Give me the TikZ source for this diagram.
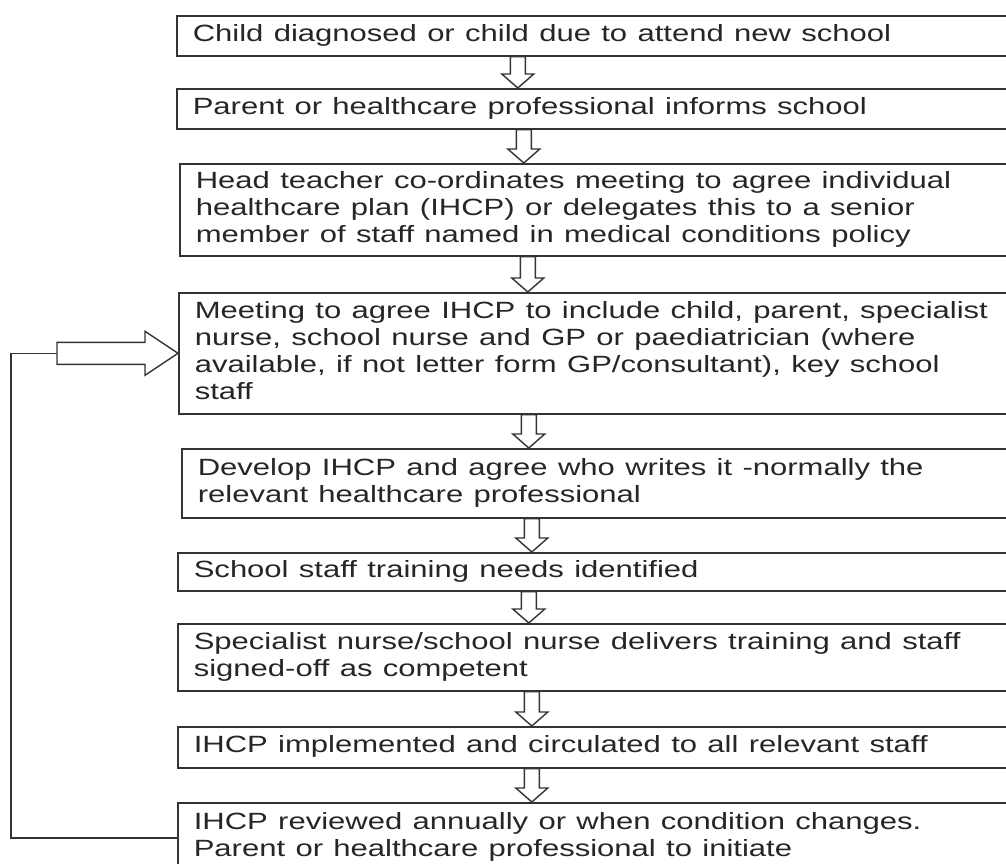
\documentclass[tikz,border=0pt]{standalone}
\usepackage{fontspec}
\setmainfont{Liberation Sans}
\usepackage{graphicx}
\usetikzlibrary{calc}
\newcommand\steptext[1]{\scalebox{1.32}[1]{\begin{tabular}{@{}l@{}}#1\end{tabular}}}
\newcommand\nextstep[3]{\draw[stepline] let \p1=([xshift=#3pt]#1.south), \p2=(#2.north) in (\x1-7.5pt,\y1) -- (\x1-7.5pt,\y2+14pt) -- (\x1-16pt,\y2+14pt) -- (\x1,\y2) -- (\x1+16pt,\y2+14pt) -- (\x1+7.5pt,\y2+14pt) -- (\x1+7.5pt,\y1) -- cycle;}

\begin{document}
\begin{tikzpicture}[x=1pt,y=-1pt,
  stepbox/.style={rectangle, draw=black!80, line width=1.6pt, anchor=north west, text width=800pt, align=left, inner xsep=16pt, inner ysep=0pt, text=black!85, font=\fontsize{23.5}{27}\selectfont},
  stepline/.style={draw=black!80, line width=1.4pt, fill=white, line join=miter}]
\useasboundingbox (0,0) rectangle (1006,864);
\node[stepbox, minimum height=40pt] (Diagnosed) at (176,15) {\steptext{Child diagnosed or child due to attend new school}};
\node[stepbox, minimum height=40pt] (Informs) at (176,88) {\steptext{Parent or healthcare professional informs school}};
\node[stepbox, minimum height=92pt] (Head) at (179,163) {\steptext{Head teacher co-ordinates meeting to agree individual\\healthcare plan (IHCP) or delegates this to a senior\\member of staff named in medical conditions policy}};
\node[stepbox, minimum height=121pt] (Meeting) at (178,292) {\steptext{Meeting to agree IHCP to include child, parent, specialist\\nurse, school nurse and GP or paediatrician (where\\available, if not letter form GP/consultant), key school\\staff}};
\node[stepbox, minimum height=69pt] (Develop) at (181,448) {\steptext{Develop IHCP and agree who writes it -normally the\\relevant healthcare professional}};
\node[stepbox, minimum height=38pt] (Training) at (177,552) {\steptext{School staff training needs identified}};
\node[stepbox, minimum height=67pt] (Delivers) at (177,623) {\steptext{Specialist nurse/school nurse delivers training and staff\\signed-off as competent}};
\node[stepbox, minimum height=41pt] (Implemented) at (177,726) {\steptext{IHCP implemented and circulated to all relevant staff}};
\node[stepbox, minimum height=70pt] (Reviewed) at (177,802) {\steptext{IHCP reviewed annually or when condition changes.\\Parent or healthcare professional to initiate}};
\nextstep{Diagnosed}{Informs}{-75}
\nextstep{Informs}{Head}{-69}
\nextstep{Head}{Meeting}{-68}
\nextstep{Meeting}{Develop}{-66}
\nextstep{Develop}{Training}{-66}
\nextstep{Training}{Delivers}{-65}
\nextstep{Delivers}{Implemented}{-62}
\nextstep{Implemented}{Reviewed}{-62}
\draw[draw=black!80, line width=1.6pt] (Reviewed.west) -| ([xshift=-167pt]Meeting.west) -- ([xshift=-121pt]Meeting.west);
\draw[stepline] ([xshift=-121pt,yshift=11pt]Meeting.west) -- ([xshift=-33pt,yshift=11pt]Meeting.west) -- ([xshift=-33pt,yshift=22pt]Meeting.west) -- (Meeting.west) -- ([xshift=-33pt,yshift=-22pt]Meeting.west) -- ([xshift=-33pt,yshift=-11pt]Meeting.west) -- ([xshift=-121pt,yshift=-11pt]Meeting.west) -- cycle;
\end{tikzpicture}
\end{document}
